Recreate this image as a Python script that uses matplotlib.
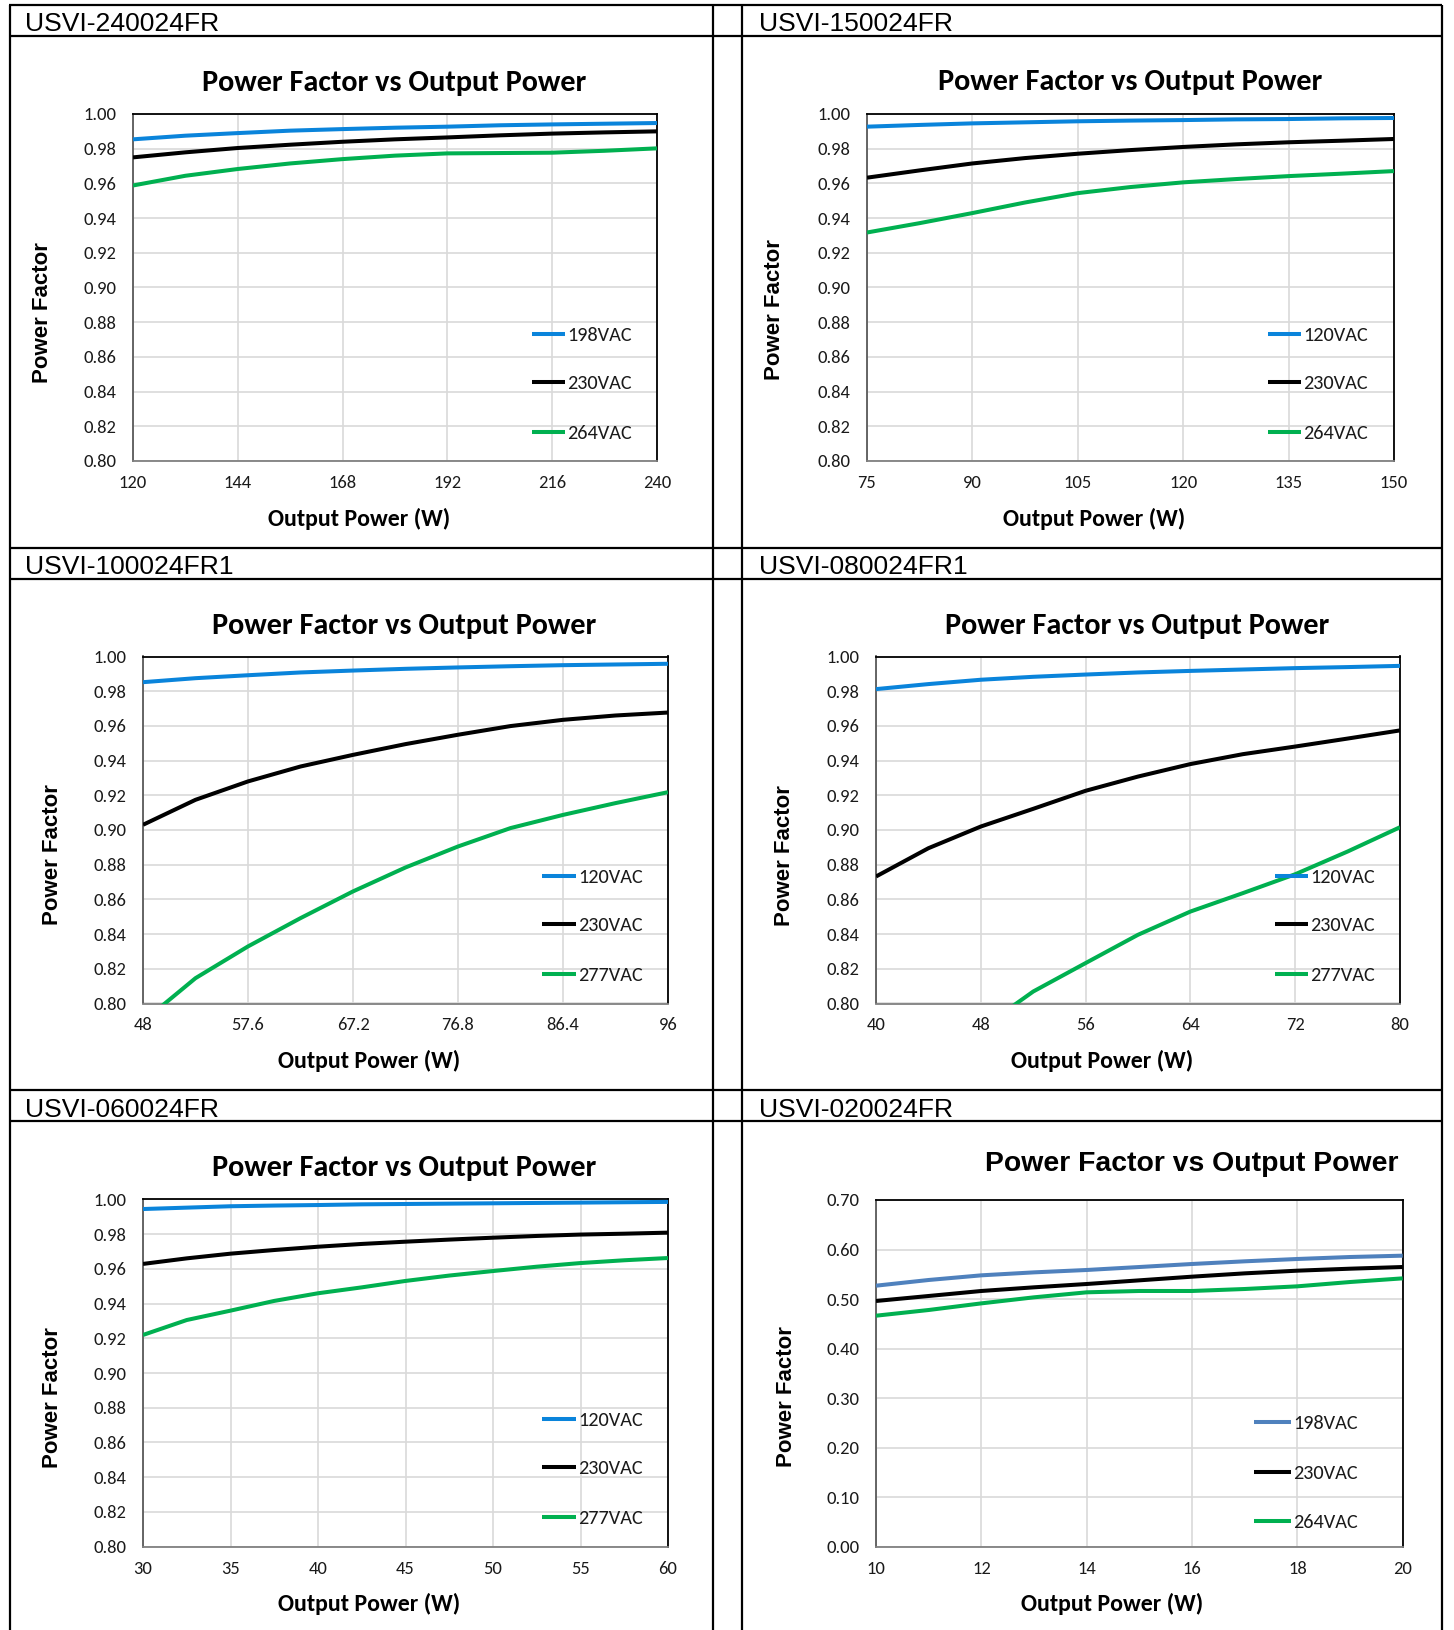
import matplotlib
matplotlib.use("Agg")
import matplotlib.pyplot as plt
from matplotlib import font_manager


def pick_family(cands, bold):
    fams = {}
    for f in font_manager.fontManager.ttflist:
        w = f.weight if isinstance(f.weight, int) else (700 if "bold" in str(f.weight) else 400)
        fams.setdefault(f.name, []).append(w)
    for c in cands:
        if c in fams and (not bold or max(fams[c]) >= 600):
            return c
    return "Liberation Sans"


narrow_cands = ["Carlito", "Archivo Narrow", "Roboto Condensed", "PT Sans Narrow",
                "Asap Condensed", "Sofia Sans Condensed"]
NARROW = pick_family(narrow_cands, False)
NARROW_B = pick_family(narrow_cands, True)
ARIAL = "Liberation Sans"

BLUE = "#0A84DB"
STEEL = "#4F81BD"
BLACK = "#000000"
GREEN = "#00B050"

# ---- data ----
pf_ticks_y = [0.80, 0.82, 0.84, 0.86, 0.88, 0.90, 0.92, 0.94, 0.96, 0.98, 1.00]
pf020_ticks_y = [0.00, 0.10, 0.20, 0.30, 0.40, 0.50, 0.60, 0.70]

pf240_ticks_x = [120, 144, 168, 192, 216, 240]
pf240_x = [120, 132, 144, 156, 168, 180, 192, 204, 216, 228, 240]
pf240_198 = [0.9854, 0.9875, 0.9890, 0.9904, 0.9913, 0.9921, 0.9927, 0.9935, 0.9940, 0.9944, 0.9948]
pf240_230 = [0.9750, 0.9779, 0.9804, 0.9823, 0.9840, 0.9854, 0.9865, 0.9877, 0.9887, 0.9894, 0.9900]
pf240_264 = [0.9588, 0.9644, 0.9683, 0.9715, 0.9740, 0.9760, 0.9773, 0.9775, 0.9777, 0.9788, 0.9802]

pf150_ticks_x = [75, 90, 105, 120, 135, 150]
pf150_x = [75, 82.5, 90, 97.5, 105, 112.5, 120, 127.5, 135, 142.5, 150]
pf150_120 = [0.9927, 0.9937, 0.9946, 0.9952, 0.9958, 0.9962, 0.9965, 0.9969, 0.9971, 0.9975, 0.9977]
pf150_230 = [0.9633, 0.9675, 0.9715, 0.9746, 0.9771, 0.9792, 0.9810, 0.9825, 0.9837, 0.9846, 0.9856]
pf150_264 = [0.9317, 0.9371, 0.9429, 0.9490, 0.9544, 0.9579, 0.9606, 0.9625, 0.9642, 0.9656, 0.9671]

pf100_ticks_x = [48, 57.6, 67.2, 76.8, 86.4, 96]
pf100_x = [48, 52.8, 57.6, 62.4, 67.2, 72, 76.8, 81.6, 86.4, 91.2, 96]
pf100_120 = [0.9852, 0.9875, 0.9892, 0.9908, 0.9919, 0.9929, 0.9937, 0.9944, 0.9950, 0.9954, 0.9958]
pf100_230 = [0.9030, 0.9174, 0.9280, 0.9366, 0.9433, 0.9495, 0.9549, 0.9599, 0.9635, 0.9660, 0.9677]
pf100_277 = [0.7896, 0.8146, 0.8329, 0.8492, 0.8646, 0.8784, 0.8905, 0.9011, 0.9087, 0.9155, 0.9218]

pf080_ticks_x = [40, 48, 56, 64, 72, 80]
pf080_x = [40, 44, 48, 52, 56, 60, 64, 68, 72, 76, 80]
pf080_120 = [0.9812, 0.9841, 0.9866, 0.9883, 0.9896, 0.9908, 0.9917, 0.9925, 0.9933, 0.9939, 0.9946]
pf080_230 = [0.8732, 0.8895, 0.9020, 0.9122, 0.9226, 0.9308, 0.9380, 0.9437, 0.9481, 0.9527, 0.9574]
pf080_277_x = [48, 52, 56, 60, 64, 68, 72, 76, 80]
pf080_277 = [0.7854, 0.8069, 0.8233, 0.8396, 0.8530, 0.8636, 0.8745, 0.8876, 0.9016]

pf060_ticks_x = [30, 35, 40, 45, 50, 55, 60]
pf060_x = [30, 32.5, 35, 37.5, 40, 42.5, 45, 47.5, 50, 52.5, 55, 57.5, 60]
pf060_120 = [0.9944, 0.9952, 0.9960, 0.9964, 0.9967, 0.9971, 0.9973, 0.9975, 0.9977, 0.9979, 0.9981, 0.9983, 0.9985]
pf060_230 = [0.9628, 0.9660, 0.9687, 0.9708, 0.9727, 0.9743, 0.9756, 0.9768, 0.9779, 0.9789, 0.9797, 0.9802, 0.9808]
pf060_277 = [0.9219, 0.9305, 0.9359, 0.9415, 0.9459, 0.9493, 0.9530, 0.9561, 0.9587, 0.9612, 0.9633, 0.9649, 0.9662]

pf020_ticks_x = [10, 12, 14, 16, 18, 20]
pf020_x = [10, 11, 12, 13, 14, 15, 16, 17, 18, 19, 20]
pf020_198 = [0.5270, 0.5385, 0.5479, 0.5539, 0.5587, 0.5647, 0.5708, 0.5762, 0.5809, 0.5849, 0.5876]
pf020_230 = [0.4961, 0.5062, 0.5163, 0.5237, 0.5304, 0.5378, 0.5452, 0.5519, 0.5573, 0.5613, 0.5647]
pf020_264 = [0.4664, 0.4779, 0.4913, 0.5035, 0.5136, 0.5163, 0.5163, 0.5203, 0.5257, 0.5344, 0.5418]

charts = [
    dict(name="USVI-240024FR", xticks=pf240_ticks_x, yticks=pf_ticks_y,
         series=[("198VAC", pf240_x, pf240_198, BLUE), ("230VAC", pf240_x, pf240_230, BLACK),
                 ("264VAC", pf240_x, pf240_264, GREEN)],
         head=(25, 31.4), plot=(133, 114, 657, 461), title=(394, 91), ylab=(42, 313),
         xlab=(359, 526), leg=(532, 565, [333.7, 382, 431.7])),
    dict(name="USVI-150024FR", xticks=pf150_ticks_x, yticks=pf_ticks_y,
         series=[("120VAC", pf150_x, pf150_120, BLUE), ("230VAC", pf150_x, pf150_230, BLACK),
                 ("264VAC", pf150_x, pf150_264, GREEN)],
         head=(759, 31.4), plot=(867, 114, 1394, 461), title=(1130, 90), ylab=(774, 310),
         xlab=(1094, 526), leg=(1268, 1301, [333.7, 382.3, 432.3])),
    dict(name="USVI-100024FR1", xticks=pf100_ticks_x, yticks=pf_ticks_y,
         series=[("120VAC", pf100_x, pf100_120, BLUE), ("230VAC", pf100_x, pf100_230, BLACK),
                 ("277VAC", pf100_x, pf100_277, GREEN)],
         head=(25, 574), plot=(143, 656.5, 668, 1003.5), title=(404, 633.6), ylab=(52, 855),
         xlab=(369, 1068), leg=(542, 576, [875.7, 924.3, 974.3])),
    dict(name="USVI-080024FR1", xticks=pf080_ticks_x, yticks=pf_ticks_y,
         series=[("120VAC", pf080_x, pf080_120, BLUE), ("230VAC", pf080_x, pf080_230, BLACK),
                 ("277VAC", pf080_277_x, pf080_277, GREEN)],
         head=(759, 574), plot=(876, 656.5, 1400, 1003.5), title=(1137, 633.6), ylab=(785, 856),
         xlab=(1102, 1068), leg=(1275, 1308, [875.7, 924.3, 974.3])),
    dict(name="USVI-060024FR", xticks=pf060_ticks_x, yticks=pf_ticks_y,
         series=[("120VAC", pf060_x, pf060_120, BLUE), ("230VAC", pf060_x, pf060_230, BLACK),
                 ("277VAC", pf060_x, pf060_277, GREEN)],
         head=(25, 1117), plot=(143, 1199.3, 668, 1546.7), title=(404, 1176), ylab=(52, 1398),
         xlab=(369, 1611), leg=(542, 576, [1418.7, 1467.3, 1516.7])),
    dict(name="USVI-020024FR", xticks=pf020_ticks_x, yticks=pf020_ticks_y,
         series=[("198VAC", pf020_x, pf020_198, STEEL), ("230VAC", pf020_x, pf020_230, BLACK),
                 ("264VAC", pf020_x, pf020_264, GREEN)],
         head=(759, 1117), plot=(876, 1200, 1402.7, 1546.7), title=(1192, 1171), ylab=(786.5, 1396.5),
         xlab=(1112, 1611), leg=(1254, 1291, [1422.3, 1471.7, 1521]), wide_title=True),
]

W, H = 1454, 1630
fig = plt.figure(figsize=(W / 100, H / 100), dpi=100)
fig.patch.set_facecolor("white")
renderer = fig.canvas.get_renderer()


def size_for(text, family, weight, target, base=20.0):
    # font size that makes the text span the measured width of the reference
    t = fig.text(0, 0, text, fontsize=base, family=family, weight=weight)
    bb = t.get_window_extent(renderer)
    t.remove()
    return base * target / bb.width


fs_head = size_for("USVI-240024FR", ARIAL, "normal", 194)
fs_title = size_for("Power Factor vs Output Power", NARROW_B, "bold", 362) * 1.06
fs_title_wide = size_for("Power Factor vs Output Power", ARIAL, "bold", 413)
fs_ylab = size_for("Power Factor", ARIAL, "bold", 141)
fs_xlab = size_for("Output Power (W)", NARROW_B, "bold", 160) * 1.14
fs_leg = size_for("198VAC", NARROW, "normal", 60) * 1.08
fs_tick = size_for("0.98", NARROW, "normal", 30) * 1.1

# overlay in pixel coordinates for the table frame and the text pieces
ov = fig.add_axes([0, 0, 1, 1], zorder=10)
ov.set_xlim(0, W)
ov.set_ylim(H, 0)
ov.axis("off")
ov.patch.set_visible(False)

ov.hlines([5, 36, 548, 579, 1090, 1121], 9, 1442, color="black", lw=1.6)
ov.vlines([9.5, 713, 742, 1442], 5, H, color="black", lw=1.6)

for c in charts:
    left, top, right, bottom = c["plot"]
    ax = fig.add_axes([left / W, 1 - bottom / H, (right - left) / W, (bottom - top) / H])
    for label, xs, ys, col in c["series"]:
        ax.plot(xs, ys, color=col, lw=2.9, solid_capstyle="butt", solid_joinstyle="round", zorder=3)
    ax.set_xlim(c["xticks"][0], c["xticks"][-1])
    ax.set_ylim(c["yticks"][0], c["yticks"][-1])
    ax.set_xticks(c["xticks"])
    ax.set_xticklabels([f"{v:g}" for v in c["xticks"]])
    ax.set_yticks(c["yticks"])
    ax.set_yticklabels([f"{v:.2f}" for v in c["yticks"]])
    ax.grid(True, color="#d9d9d9", lw=1.2, zorder=0)
    ax.set_axisbelow(True)
    ax.tick_params(length=0, labelsize=fs_tick, labelcolor="#1a1a1a")
    ax.tick_params(axis="y", pad=12)
    ax.tick_params(axis="x", pad=10)
    for t in ax.get_xticklabels() + ax.get_yticklabels():
        t.set_fontfamily(NARROW)
    ax.spines["top"].set_color("black")
    ax.spines["right"].set_color("black")
    ax.spines["left"].set_color("#595959")
    ax.spines["bottom"].set_color("#808080")
    for s in ax.spines.values():
        s.set_linewidth(1.3)

    # header cell text
    ov.text(c["head"][0], c["head"][1], c["name"], fontsize=fs_head, family=ARIAL, va="baseline", ha="left")
    # chart title
    if c.get("wide_title"):
        ov.text(c["title"][0], c["title"][1], "Power Factor vs Output Power", fontsize=fs_title_wide,
                family=ARIAL, weight="bold", ha="center", va="baseline")
    else:
        ov.text(c["title"][0], c["title"][1], "Power Factor vs Output Power", fontsize=fs_title,
                family=NARROW_B, weight="bold", ha="center", va="baseline")
    ov.text(c["ylab"][0], c["ylab"][1], "Power Factor", fontsize=fs_ylab, family=ARIAL, weight="bold",
            rotation=90, ha="center", va="center")
    ov.text(c["xlab"][0], c["xlab"][1], "Output Power (W)", fontsize=fs_xlab, family=NARROW_B, weight="bold",
            ha="center", va="baseline")
    # legend entries
    x0, x1, ys_leg = c["leg"]
    for (label, xs, ys, col), yl in zip(c["series"], ys_leg):
        ov.plot([x0, x1], [yl, yl], color=col, lw=2.9, solid_capstyle="butt")
        ov.text(x1 + 2, yl + 7, label, fontsize=fs_leg, family=NARROW, color="#1a1a1a",
                ha="left", va="baseline")

fig.savefig("out.png", dpi=100)
